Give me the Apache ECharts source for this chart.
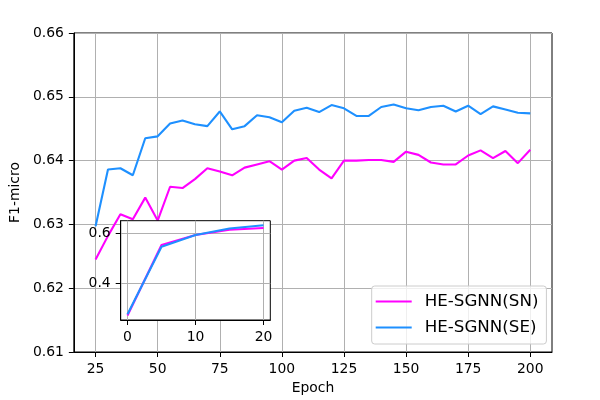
<!DOCTYPE html>
<html>
<head>
<meta charset="utf-8">
<script src="https://cdn.jsdelivr.net/npm/echarts@6/dist/echarts.min.js"></script>
<style>
html,body{margin:0;padding:0;background:#fff;}
#chart{width:600px;height:400px;}
</style>
</head>
<body>
<div id="chart"></div>
<script>
// Main chart data
var epochs = [25,30,35,40,45,50,55,60,65,70,75,80,85,90,95,100,105,110,115,120,125,130,135,140,145,150,155,160,165,170,175,180,185,190,195,200];
var sn = [0.6245,0.6282,0.6316,0.6308,0.6342,0.6306,0.6359,0.6357,0.6371,0.6388,0.6383,0.6377,0.6389,0.6394,0.6399,0.6386,0.6400,0.6404,0.6386,0.6372,0.6400,0.6400,0.6401,0.6401,0.6398,0.6414,0.6409,0.6397,0.6394,0.6394,0.6408,0.6416,0.6404,0.6415,0.6396,0.6417];
var se = [0.6297,0.6386,0.6388,0.6377,0.6435,0.6438,0.6458,0.6463,0.6457,0.6454,0.6477,0.6449,0.6454,0.6471,0.6468,0.6460,0.6478,0.6483,0.6476,0.6487,0.6482,0.6470,0.6470,0.6484,0.6488,0.6482,0.6479,0.6484,0.6486,0.6477,0.6486,0.6473,0.6485,0.6480,0.6475,0.6474];
var xTicks = [25,50,75,100,125,150,175,200];
var yTicks = [0.61,0.62,0.63,0.64,0.65,0.66];

// Inset data
var insetEpochs = [0,5,10,15,20];
var insetSN = [0.2745,0.553,0.592,0.613,0.620];
var insetSE = [0.2797,0.546,0.592,0.618,0.631];
var insetXTicks = [0,10,20];
var insetYTicks = [0.4,0.6];

var names = ['HE-SGNN(SN)','HE-SGNN(SE)'];
var colors = ['#ff00ff','#1e90ff'];

function pairs(xs, ys){ return xs.map(function(x,i){ return [x, ys[i]]; }); }

var FONT = 'DejaVu Sans';
var FS = 13.9;

function axisCommon(extra){
  var base = {
    type: 'value',
    axisLine: {show: true, onZero: false, lineStyle: {color: '#000', width: 1}},
    axisTick: {show: true, inside: false, length: 5, lineStyle: {color: '#000', width: 1}},
    axisLabel: {color: '#000', fontFamily: FONT, fontSize: FS, margin: 10},
    splitLine: {show: true, lineStyle: {color: '#b0b0b0', width: 1}}
  };
  for (var k in extra) {
    if (typeof extra[k] === 'object' && !Array.isArray(extra[k]) && base[k]) {
      for (var j in extra[k]) base[k][j] = extra[k][j];
    } else base[k] = extra[k];
  }
  return base;
}

var chart = echarts.init(document.getElementById('chart'), null, {renderer: 'canvas'});
chart.setOption({
  animation: false,
  backgroundColor: '#fff',
  grid: [
    {left: 72, top: 33, right: 48, bottom: 48, show: true, borderColor: '#000', borderWidth: 1, backgroundColor: 'transparent'},
    {left: 120.7, top: 220.7, width: 149.6, height: 99.3, show: true, borderColor: '#000', borderWidth: 1, backgroundColor: '#fff', z: 10}
  ],
  legend: {
    data: names,
    orient: 'vertical',
    left: 371.7,
    top: 286,
    icon: 'rect',
    itemWidth: 36,
    itemHeight: 2,
    itemGap: 9,
    padding: [7, 8, 8, 4],
    backgroundColor: 'rgba(255,255,255,0.8)',
    borderColor: '#cccccc',
    borderWidth: 1,
    borderRadius: 3,
    textStyle: {color: '#000', fontFamily: FONT, fontSize: 16.7, padding: [0,0,0,8]},
    z: 20
  },
  xAxis: [
    axisCommon({
      gridIndex: 0, min: 16.25, max: 208.75,
      name: 'Epoch', nameLocation: 'middle', nameGap: 28,
      nameTextStyle: {color: '#000', fontFamily: FONT, fontSize: FS},
      axisTick: {customValues: xTicks},
      axisLabel: {customValues: xTicks, formatter: function(v){ return String(v); }}
    }),
    axisCommon({
      gridIndex: 1, min: -1, max: 21, z: 11,
      axisTick: {customValues: insetXTicks},
      axisLabel: {customValues: insetXTicks, formatter: function(v){ return String(v); }}
    })
  ],
  yAxis: [
    axisCommon({
      gridIndex: 0, min: 0.61, max: 0.66,
      name: 'F1-micro', nameLocation: 'middle', nameGap: 44, nameRotate: 90,
      nameTextStyle: {color: '#000', fontFamily: FONT, fontSize: FS},
      axisTick: {customValues: yTicks},
      axisLabel: {customValues: yTicks, formatter: function(v){ return v.toFixed(2); }}
    }),
    axisCommon({
      gridIndex: 1, min: 0.2567, max: 0.6488, z: 11,
      axisTick: {customValues: insetYTicks},
      axisLabel: {customValues: insetYTicks, formatter: function(v){ return v.toFixed(1); }}
    })
  ],
  series: [
    {name: names[0], type: 'line', xAxisIndex: 0, yAxisIndex: 0, data: pairs(epochs, sn), showSymbol: false, symbol: 'none', lineStyle: {color: colors[0], width: 2.1}, itemStyle: {color: colors[0]}, z: 2},
    {name: names[1], type: 'line', xAxisIndex: 0, yAxisIndex: 0, data: pairs(epochs, se), showSymbol: false, symbol: 'none', lineStyle: {color: colors[1], width: 2.1}, itemStyle: {color: colors[1]}, z: 3},
    {name: names[0], type: 'line', xAxisIndex: 1, yAxisIndex: 1, data: pairs(insetEpochs, insetSN), showSymbol: false, symbol: 'none', lineStyle: {color: colors[0], width: 2.1}, itemStyle: {color: colors[0]}, z: 12},
    {name: names[1], type: 'line', xAxisIndex: 1, yAxisIndex: 1, data: pairs(insetEpochs, insetSE), showSymbol: false, symbol: 'none', lineStyle: {color: colors[1], width: 2.1}, itemStyle: {color: colors[1]}, z: 13}
  ]
});
</script>
</body>
</html>
